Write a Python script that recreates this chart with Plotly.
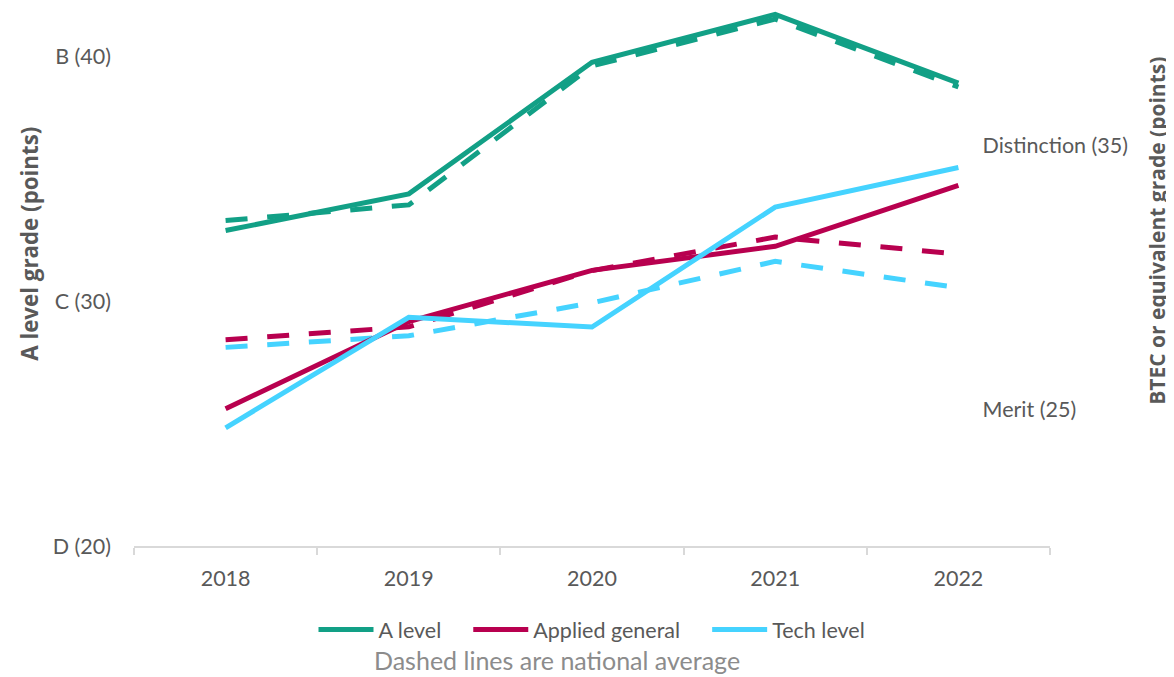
import plotly.graph_objects as go

years = ["2018", "2019", "2020", "2021", "2022"]

a_level = [32.90, 34.40, 39.78, 41.74, 38.93]
a_level_nat = [33.31, 33.95, 39.63, 41.55, 38.77]

applied_general = [25.03, 28.34, 30.28, 31.19, 33.50]
applied_general_nat = [27.65, 28.14, 30.27, 31.54, 30.90]

tech_level = [24.31, 28.50, 28.13, 32.68, 34.18]
tech_level_nat = [27.36, 27.80, 29.05, 30.62, 29.62]

left_tickvals = [20, 30, 40]
left_ticktext = ["D (20)", "C (30)", "B (40)"]
right_tickvals = [25, 35]
right_ticktext = ["Merit (25)", "Distinction (35)"]

TEAL = "#12A086"
MAGENTA = "#B8004F"
CYAN = "#45D3FF"
TXT = "#595959"
FONT = "Lato"
DASH = "22px,19.7px"
LW = 5
FS = 21.5
PAD = "\u00a0" * 4  # extra spacing between legend entries

fig = go.Figure()

# dashed national averages (drawn first, underneath)
fig.add_trace(go.Scatter(x=years, y=a_level_nat, mode="lines", showlegend=False,
                         line=dict(color=TEAL, width=LW, dash=DASH), yaxis="y"))
fig.add_trace(go.Scatter(x=years, y=applied_general_nat, mode="lines", showlegend=False,
                         line=dict(color=MAGENTA, width=LW, dash=DASH), yaxis="y2"))
fig.add_trace(go.Scatter(x=years, y=tech_level_nat, mode="lines", showlegend=False,
                         line=dict(color=CYAN, width=LW, dash=DASH), yaxis="y2"))

# solid provider lines
fig.add_trace(go.Scatter(x=years, y=a_level, mode="lines", name="A level" + PAD,
                         line=dict(color=TEAL, width=LW), yaxis="y"))
fig.add_trace(go.Scatter(x=years, y=applied_general, mode="lines", name="Applied general" + PAD,
                         line=dict(color=MAGENTA, width=LW), yaxis="y2"))
fig.add_trace(go.Scatter(x=years, y=tech_level, mode="lines", name="Tech level",
                         line=dict(color=CYAN, width=LW), yaxis="y2"))

fig.update_layout(
    width=1166, height=669,
    margin=dict(l=126, r=124, t=2, b=130.5),
    paper_bgcolor="white", plot_bgcolor="white",
    font=dict(family=FONT, size=FS, color=TXT),
    xaxis=dict(
        type="category", range=[-0.5, 4.5],
        showline=True, linecolor="#D9D9D9", linewidth=2,
        ticks="outside", tickson="boundaries", ticklen=7, tickcolor="#D9D9D9", tickwidth=2,
        showgrid=False, zeroline=False,
        tickfont=dict(size=FS, color=TXT), ticklabelstandoff=12,
    ),
    yaxis=dict(
        range=[20, 41.92], tickvals=left_tickvals, ticktext=left_ticktext,
        showgrid=False, zeroline=False, showline=False, ticks="",
        tickfont=dict(size=FS, color=TXT), ticklabelstandoff=22,
    ),
    yaxis2=dict(
        range=[19.83, 40.15], tickvals=right_tickvals, ticktext=right_ticktext,
        overlaying="y", side="right", anchor="free", position=0.9253,
        showgrid=False, zeroline=False, showline=False, ticks="",
        tickfont=dict(size=FS, color=TXT),
    ),
    legend=dict(orientation="h", x=0.5, xanchor="center", y=-0.156, yanchor="middle",
                itemwidth=55, font=dict(size=FS, color=TXT), bgcolor="rgba(0,0,0,0)"),
    annotations=[
        dict(text="<b>A level grade (points)</b>", xref="paper", yref="paper",
             x=(30 - 134) / 916, y=(546.5 - 244) / 536.5, xanchor="center", yanchor="middle",
             textangle=-90, showarrow=False, font=dict(size=22.3, color=TXT, family="Open Sans")),
        dict(text="<b>BTEC or equivalent grade (points)</b>", xref="paper", yref="paper",
             x=(1157 - 134) / 916, y=(546.5 - 231) / 536.5, xanchor="center", yanchor="middle",
             textangle=-90, showarrow=False, font=dict(size=21, color=TXT, family="Open Sans")),
        dict(text="Dashed lines are national average", xref="paper", yref="paper",
             x=(557 - 134) / 916, y=-(661 - 546.5) / 536.5, xanchor="center", yanchor="middle",
             showarrow=False, font=dict(size=25, color="#8C8C8C")),
    ],
)

fig.write_html("out.html")
